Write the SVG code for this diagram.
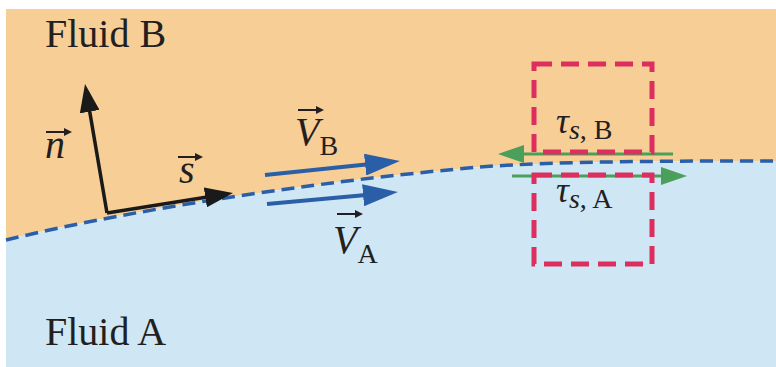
<svg xmlns="http://www.w3.org/2000/svg" width="776" height="367" viewBox="0 0 776 367">
<style>
.lbl{font-family:"Liberation Serif","Times New Roman",serif;fill:#231f20}
.it{font-style:italic}
.vec{stroke:#231f20;stroke-width:2;fill:none}
.iface{fill:none;stroke:#2a5ea8;stroke-width:3.5;stroke-dasharray:13 7}
.blk{stroke:#1a1a1a;stroke-width:3.5;fill:none}
.blu{stroke:#2a5fa8;stroke-width:4;fill:none}
.grn{stroke:#4a9f5a;stroke-width:3;fill:none}
.cv{fill:none;stroke:#dc2f5f;stroke-width:5;stroke-dasharray:18 9}
</style>
<defs>
<marker id="hb" viewBox="0 0 28 20" markerUnits="userSpaceOnUse" markerWidth="28" markerHeight="20" refX="18" refY="10" orient="auto"><path d="M0,0 L28,10 L0,20 z" fill="#1a1a1a"/></marker>
<marker id="hu" viewBox="0 0 35 22" markerUnits="userSpaceOnUse" markerWidth="35" markerHeight="22" refX="25" refY="11" orient="auto"><path d="M0,0 L35,11 L0,22 z" fill="#2a5fa8"/></marker>
<marker id="hg" viewBox="0 0 26 18" markerUnits="userSpaceOnUse" markerWidth="26" markerHeight="18" refX="16" refY="9" orient="auto"><path d="M0,0 L26,9 L0,18 z" fill="#4a9f5a"/></marker>
<marker id="hv" viewBox="0 0 8 8" markerUnits="userSpaceOnUse" markerWidth="8" markerHeight="8" refX="6" refY="4" orient="auto"><path d="M0,0 L8,4 L0,8 z" fill="#231f20"/></marker>
</defs>
<rect x="0" y="0" width="776" height="367" fill="#ffffff"/>
<g id="fluidB-region"><path d="M6,9 L776,9 L776,161 C680,161 560,161 480,167 C350,178 150,205 6,240 Z" fill="#f6ce96"/></g>
<g id="fluidA-region"><path d="M6,240 C150,205 350,178 480,167 C560,161 680,161 776,161 L776,367 L6,367 Z" fill="#cfe7f5"/></g>
<g id="interface"><path class="iface" d="M6,240 C150,205 350,178 480,167 C560,161 680,161 776,161"/></g>
<g id="connectors">
<line id="n-arrow" class="blk" x1="107" y1="213" x2="86.7" y2="93.9" marker-end="url(#hb)"/>
<line id="s-arrow" class="blk" x1="107" y1="213" x2="223.1" y2="194.6" marker-end="url(#hb)"/>
<line id="VB-arrow" class="blu" x1="265" y1="175" x2="390" y2="162" marker-end="url(#hu)"/>
<line id="VA-arrow" class="blu" x1="267" y1="204" x2="388" y2="193" marker-end="url(#hu)"/>
<line id="tauB-arrow" class="grn" x1="673" y1="154" x2="508" y2="154" marker-end="url(#hg)"/>
<line id="tauA-arrow" class="grn" x1="512" y1="176" x2="677" y2="176" marker-end="url(#hg)"/>
</g>
<g id="cv-B"><rect class="cv" x="534" y="64" width="118" height="88"/></g>
<g id="cv-A"><rect class="cv" x="534" y="175" width="118" height="89"/></g>
<g id="label-fluidB"><text class="lbl" x="45" y="47" font-size="40">Fluid B</text></g>
<g id="label-fluidA"><text class="lbl" x="45" y="345" font-size="40">Fluid A</text></g>
<g id="label-n"><text class="lbl it" x="45" y="158" font-size="40">n</text><line class="vec" x1="46" y1="132" x2="70" y2="132" marker-end="url(#hv)"/></g>
<g id="label-s"><text class="lbl it" x="179" y="183" font-size="40">s</text><line class="vec" x1="178" y1="157" x2="201" y2="157" marker-end="url(#hv)"/></g>
<g id="label-VB"><text class="lbl" x="295" y="145"><tspan class="it" font-size="40">V</tspan><tspan font-size="28" dy="10">B</tspan></text><line class="vec" x1="298" y1="110" x2="322" y2="110" marker-end="url(#hv)"/></g>
<g id="label-VA"><text class="lbl" x="333" y="253"><tspan class="it" font-size="40">V</tspan><tspan font-size="28" dy="10">A</tspan></text><line class="vec" x1="337" y1="214" x2="361" y2="214" marker-end="url(#hv)"/></g>
<g id="label-tauB"><text class="lbl" x="556" y="133"><tspan class="it" font-size="36">τ</tspan><tspan font-size="28" dy="6"><tspan class="it">s</tspan>, B</tspan></text></g>
<g id="label-tauA"><text class="lbl" x="556" y="202"><tspan class="it" font-size="36">τ</tspan><tspan font-size="28" dy="6"><tspan class="it">s</tspan>, A</tspan></text></g>
</svg>
